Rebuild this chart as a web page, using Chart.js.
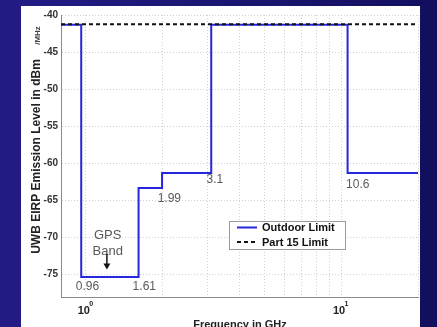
<!DOCTYPE html>
<html><head><meta charset="utf-8">
<script src="https://cdn.jsdelivr.net/npm/chart.js@4.4.1/dist/chart.umd.min.js"></script>
<style>html,body{margin:0;padding:0;background:#1a1672;overflow:hidden}canvas{display:block}</style>
</head><body><canvas id="c" width="437" height="327"></canvas>
<script>
// ---- data ----
const breakFreqs = [0.8, 0.96, 1.61, 1.99, 3.1, 10.6, 20];
const outdoorLevels = [-41.3, -75.3, -63.3, -61.3, -41.3, -61.3, -61.3];
const part15Freqs = [0.8, 20];
const part15Levels = [-41.25, -41.25];
const yTickValues = [-75, -70, -65, -60, -55, -50, -45, -40];
const xGridValues = [1, 2, 3, 4, 5, 6, 7, 8, 9, 10, 20];
const xLabelValues = [1, 10];
const xLabelExps = ['0', '1'];
const freqLabels = ['0.96', '1.61', '1.99', '3.1', '10.6'];
const freqLabelX = [0.914, 1.526, 1.912, 2.97, 10.46];
const freqLabelY = [-76.6, -76.6, -64.7, -62.2, -62.8];
const seriesNames = ['Outdoor Limit', 'Part 15 Limit'];
const yTitle = 'UWB EIRP Emission Level in dBm';
const yUnit = '/MHz';
const xTitle = 'Frequency in GHz';
const gpsText = ['GPS', 'Band'];

const FONT = '"Liberation Sans", Arial, Helvetica, sans-serif';

const decor = {
  id: 'decor',
  beforeDraw(chart) {
    const ctx = chart.ctx;
    ctx.save();
    const g = ctx.createLinearGradient(0, 0, 437, 0);
    g.addColorStop(0, '#231c86');
    g.addColorStop(1, '#130f5e');
    ctx.fillStyle = g;
    ctx.fillRect(0, 0, 437, 327);
    ctx.fillStyle = '#ffffff';
    ctx.fillRect(21, 6, 399, 321);
    ctx.restore();
  },
  afterDraw(chart) {
    const ctx = chart.ctx;
    const xs = chart.scales.x, ys = chart.scales.y;
    ctx.save();
    // y title
    ctx.fillStyle = '#222';
    ctx.translate(37, 156.5);
    ctx.rotate(-Math.PI / 2);
    ctx.textAlign = 'center';
    ctx.textBaseline = 'middle';
    ctx.font = 'bold 12px ' + FONT;
    ctx.fillText(yTitle, 0, 0);
    ctx.setTransform(1, 0, 0, 1, 0, 0);
    ctx.translate(38, 35.5);
    ctx.rotate(-Math.PI / 2);
    ctx.font = 'bold 8px ' + FONT;
    ctx.fillStyle = '#444';
    ctx.fillText(yUnit, 0, 0);
    ctx.setTransform(1, 0, 0, 1, 0, 0);
    // x title
    ctx.fillStyle = '#222';
    ctx.font = 'bold 11px ' + FONT;
    ctx.textAlign = 'center';
    ctx.textBaseline = 'alphabetic';
    ctx.fillText(xTitle, 240, 328);
    // x tick labels with exponent
    xLabelValues.forEach((v, i) => {
      const px = xs.getPixelForValue(v);
      ctx.font = 'bold 11px ' + FONT;
      ctx.textAlign = 'center';
      ctx.textBaseline = 'middle';
      ctx.fillStyle = '#222';
      ctx.fillText('10', px - 2, 310.5);
      ctx.font = 'bold 7px ' + FONT;
      ctx.textAlign = 'left';
      ctx.fillText(xLabelExps[i], px + 3.5, 304);
    });
    // frequency annotations
    ctx.font = '12px ' + FONT;
    ctx.fillStyle = '#5a5a5a';
    ctx.textAlign = 'left';
    ctx.textBaseline = 'middle';
    freqLabels.forEach((t, i) => {
      ctx.fillText(t, xs.getPixelForValue(freqLabelX[i]), ys.getPixelForValue(freqLabelY[i]));
    });
    // GPS band label + arrow
    ctx.font = '13px ' + FONT;
    ctx.textAlign = 'center';
    const gx = xs.getPixelForValue(1.219);
    ctx.fillText(gpsText[0], gx, ys.getPixelForValue(-69.7));
    ctx.fillText(gpsText[1], gx, ys.getPixelForValue(-71.8));
    const ax = xs.getPixelForValue(1.21);
    const ay1 = ys.getPixelForValue(-72.2), ay2 = ys.getPixelForValue(-74.3);
    ctx.strokeStyle = '#111';
    ctx.fillStyle = '#111';
    ctx.lineWidth = 1.5;
    ctx.beginPath(); ctx.moveTo(ax, ay1); ctx.lineTo(ax, ay2 - 5); ctx.stroke();
    ctx.beginPath(); ctx.moveTo(ax - 3.5, ay2 - 6); ctx.lineTo(ax + 3.5, ay2 - 6); ctx.lineTo(ax, ay2); ctx.closePath(); ctx.fill();
    // legend
    const lx = 229.5, ly = 221.5, lw = 116, lh = 28;
    ctx.fillStyle = '#fff';
    ctx.fillRect(lx, ly, lw, lh);
    ctx.strokeStyle = '#9a9a9a';
    ctx.lineWidth = 1;
    ctx.strokeRect(lx, ly, lw, lh);
    const ds = chart.data.datasets;
    const rows = [227.5, 242];
    [0, 1].forEach(k => {
      const d = ds[k];
      ctx.strokeStyle = d.borderColor;
      ctx.lineWidth = d.borderWidth;
      ctx.setLineDash(d.borderDash || []);
      ctx.beginPath(); ctx.moveTo(237, rows[k]); ctx.lineTo(257, rows[k]); ctx.stroke();
      ctx.setLineDash([]);
      ctx.fillStyle = '#111';
      ctx.font = 'bold 11px ' + FONT;
      ctx.textAlign = 'left';
      ctx.textBaseline = 'middle';
      ctx.fillText(d.label, 262, rows[k] + 0.5);
    });
    ctx.restore();
  }
};

new Chart(document.getElementById('c'), {
  type: 'line',
  data: {
    datasets: [
      {
        label: seriesNames[0],
        data: breakFreqs.map((f, i) => ({ x: f, y: outdoorLevels[i] })),
        borderColor: '#2626dc',
        borderWidth: 2,
        stepped: 'before',
        pointRadius: 0,
        fill: false,
        order: 1
      },
      {
        label: seriesNames[1],
        data: part15Freqs.map((f, i) => ({ x: f, y: part15Levels[i] })),
        borderColor: '#111111',
        borderWidth: 2,
        borderDash: [4, 3],
        pointRadius: 0,
        fill: false,
        order: 0
      }
    ]
  },
  options: {
    responsive: false,
    animation: false,
    layout: { padding: { left: 0, top: 15, right: 19, bottom: 0 } },
    plugins: { legend: { display: false }, tooltip: { enabled: false } },
    scales: {
      x: {
        type: 'logarithmic',
        min: 0.8, max: 20,
        afterBuildTicks: s => { s.ticks = xGridValues.map(v => ({ value: v })); },
        afterFit: s => { s.height = 30; },
        ticks: { callback: () => '', autoSkip: false, display: true },
        grid: { color: '#d0d0d0', lineWidth: 1, drawTicks: false },
        border: { display: true, color: '#8a8a8a', width: 1, dash: [1, 2] }
      },
      y: {
        type: 'linear',
        min: -78, max: -40,
        afterBuildTicks: s => { s.ticks = yTickValues.map(v => ({ value: v })); },
        afterFit: s => { s.width = 61; },
        ticks: {
          padding: 3,
          color: '#333',
          font: { family: FONT, size: 10, weight: 'bold' }
        },
        grid: { color: '#d0d0d0', lineWidth: 1, drawTicks: false },
        border: { display: true, color: '#8a8a8a', width: 1, dash: [1, 2] }
      }
    }
  },
  plugins: [decor]
});
</script>
</body></html>
